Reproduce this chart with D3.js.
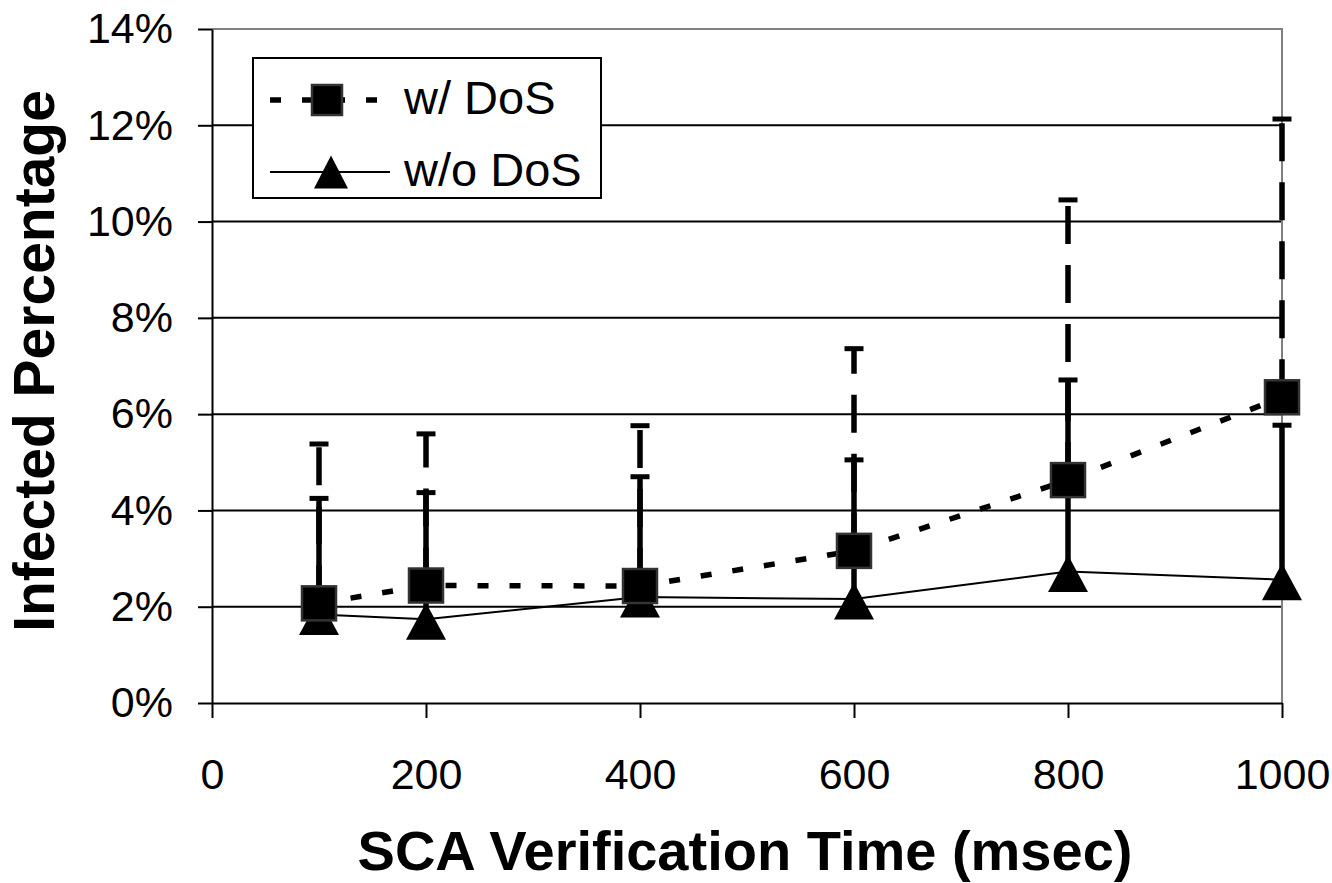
<!DOCTYPE html>
<html><head><meta charset="utf-8">
<script src="https://cdn.jsdelivr.net/npm/d3@7"></script>
<style>
body{margin:0;background:#fff}
svg{display:block}
text{font-family:"Liberation Sans",Arial,Helvetica,sans-serif;fill:#000}
</style>
</head><body>
<svg id="c" width="1332" height="883"></svg>
<script>
// ---- data ----
const times = [100, 200, 400, 600, 800, 1000];
const withDoS = [2.07, 2.44, 2.43, 3.16, 4.63, 6.35];          // %
const withDoSErr = [3.31, 3.15, 3.33, 4.20, 5.82, 5.78];       // % (plus)
const withoutDoS = [1.84, 1.74, 2.20, 2.16, 2.73, 2.56];       // %
const withoutDoSErr = [2.41, 2.63, 2.50, 2.89, 3.98, 3.21];    // % (plus)
const xTicks = [0, 200, 400, 600, 800, 1000];
const yTicks = [0, 2, 4, 6, 8, 10, 12, 14];
const seriesNames = ["w/ DoS", "w/o DoS"];

const svg = d3.select("#c");
const L = 212, R = 1282, T = 29, B = 703;
const x = d3.scaleLinear().domain([0, 1000]).range([L, R]);
const y = d3.scaleLinear().domain([0, 14]).range([B, T]);

// gridlines
svg.append("g").selectAll("line").data(yTicks.filter(d => d > 0 && d < 14)).join("line")
  .attr("x1", L).attr("x2", R).attr("y1", d => y(d)).attr("y2", d => y(d))
  .attr("stroke", "#000").attr("stroke-width", 2);

// plot border top/right
svg.append("path").attr("d", `M${L},${y(14)}H${R}V${B}`)
  .attr("fill", "none").attr("stroke", "#808080").attr("stroke-width", 2);

// axes
const yAxis = svg.append("g").attr("transform", `translate(${L},0)`)
  .call(d3.axisLeft(y).tickValues(yTicks).tickFormat(d => d + "%").tickSize(14).tickSizeOuter(0).tickPadding(25));
const xAxis = svg.append("g").attr("transform", `translate(0,${B})`)
  .call(d3.axisBottom(x).tickValues(xTicks).tickFormat(d3.format("d")).tickSize(15).tickSizeOuter(0).tickPadding(40));
[yAxis, xAxis].forEach(a => {
  a.selectAll("path.domain").attr("stroke", "#000").attr("stroke-width", 2);
  a.selectAll(".tick line").attr("stroke", "#000").attr("stroke-width", 2);
  a.selectAll(".tick text").attr("font-size", 43).attr("fill", "#000")
    .style("font-family", '"Liberation Sans", Arial, sans-serif');
});

// series lines
const line = d3.line().x(d => x(d[0])).y(d => y(d[1]));
const ptsWo = times.map((t, i) => [t, withoutDoS[i]]);
const ptsW = times.map((t, i) => [t, withDoS[i]]);
svg.append("path").attr("d", line(ptsWo)).attr("fill", "none")
  .attr("stroke", "#000").attr("stroke-width", 2);
svg.append("path").attr("d", line(ptsW)).attr("fill", "none")
  .attr("stroke", "#000").attr("stroke-width", 5.5).attr("stroke-dasharray", "11,21");

// error bars
function errBars(vals, errs, dash) {
  const g = svg.append("g");
  times.forEach((t, i) => {
    const cx = x(t), y0 = y(vals[i]), y1 = y(vals[i] + errs[i]);
    g.append("line").attr("x1", cx).attr("x2", cx).attr("y1", y0).attr("y2", y1)
      .attr("stroke", "#000").attr("stroke-width", 5.5).attr("stroke-dasharray", dash || null);
    g.append("line").attr("x1", cx - 9.5).attr("x2", cx + 9.5).attr("y1", y1).attr("y2", y1)
      .attr("stroke", "#000").attr("stroke-width", 5);
  });
}
errBars(withoutDoS, withoutDoSErr, null);
errBars(withDoS, withDoSErr, "38,21");

// markers
const tri = (cx, cy, w, h) => `M${cx},${cy - h / 2}L${cx + w / 2},${cy + h / 2}L${cx - w / 2},${cy + h / 2}Z`;
svg.append("g").selectAll("path").data(ptsWo).join("path")
  .attr("d", d => tri(x(d[0]), y(d[1]) + 2, 40, 37)).attr("fill", "#000");
svg.append("g").selectAll("rect").data(ptsW).join("rect")
  .attr("x", d => x(d[0]) - 17).attr("y", d => y(d[1]) - 17)
  .attr("width", 34).attr("height", 34)
  .attr("fill", "#000").attr("stroke", "#333").attr("stroke-width", 2.5);

// legend
const lg = svg.append("g");
lg.append("rect").attr("x", 253).attr("y", 58).attr("width", 348).attr("height", 140)
  .attr("fill", "#fff").attr("stroke", "#000").attr("stroke-width", 2);
lg.append("line").attr("x1", 270).attr("x2", 390).attr("y1", 100).attr("y2", 100)
  .attr("stroke", "#000").attr("stroke-width", 5.5).attr("stroke-dasharray", "11,21");
lg.append("rect").attr("x", 327 - 15).attr("y", 100 - 15).attr("width", 30).attr("height", 30)
  .attr("fill", "#000").attr("stroke", "#333").attr("stroke-width", 2.5);
lg.append("line").attr("x1", 270).attr("x2", 390).attr("y1", 172).attr("y2", 172)
  .attr("stroke", "#000").attr("stroke-width", 2);
lg.append("path").attr("d", tri(331, 172, 34, 33)).attr("fill", "#000");
lg.append("text").attr("x", 404).attr("y", 114).attr("font-size", 47).text(seriesNames[0]);
lg.append("text").attr("x", 404).attr("y", 186).attr("font-size", 47).text(seriesNames[1]);

// axis titles
svg.append("text").attr("x", 745).attr("y", 870).attr("text-anchor", "middle")
  .attr("font-size", 56).attr("font-weight", "bold").text("SCA Verification Time (msec)");
svg.append("text").attr("transform", "translate(54,361) rotate(-90)").attr("text-anchor", "middle")
  .attr("font-size", 57).attr("font-weight", "bold").text("Infected Percentage");
</script>
</body></html>
